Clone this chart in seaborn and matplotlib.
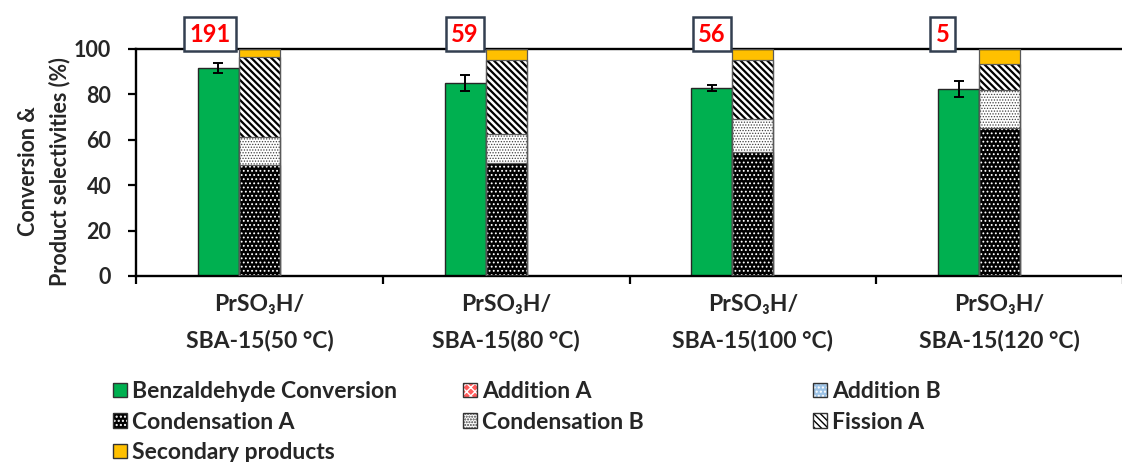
import numpy as np
import pandas as pd
import matplotlib.pyplot as plt
import seaborn as sns
from matplotlib.patches import Patch

# ------------------------
# Data
# ------------------------
catalysts = ["PrSO\u2083H/\nSBA-15(50 °C)", "PrSO\u2083H/\nSBA-15(80 °C)",
             "PrSO\u2083H/\nSBA-15(100 °C)", "PrSO\u2083H/\nSBA-15(120 °C)"]
conversion = [91.7, 85.1, 82.7, 82.4]
conversion_err = [2.2, 3.5, 1.3, 3.5]
addition_a = [0.0, 0.0, 0.0, 0.0]
addition_b = [0.0, 0.0, 0.0, 0.0]
condensation_a = [49.1, 49.6, 54.7, 65.0]
condensation_b = [12.1, 12.9, 14.3, 16.8]
fission_a = [35.1, 32.6, 26.1, 11.4]
secondary = [3.7, 4.9, 4.9, 6.8]
box_labels = ["191", "59", "56", "5"]
box_shift = [-0.034, 0.0, 0.0, -0.065]   # small horizontal nudges of the boxes

GREEN = "#00B050"
GOLD = "#FFC000"
RED = "#FF5B5B"
LIGHTBLUE = "#9DC3E6"

sns.set_theme(style="white")
plt.rcParams["font.family"] = ["Lato", "DejaVu Sans"]
plt.rcParams["font.weight"] = "bold"
plt.rcParams["hatch.linewidth"] = 1.0

fig = plt.figure(figsize=(11.22, 4.62), dpi=100)
ax = fig.add_axes([136 / 1122, (462 - 276) / 462, 987 / 1122, 227 / 462])

bw = 0.166
idx = np.arange(len(catalysts))
green_x = idx - bw
stack_x = idx.astype(float)

# green conversion bars
df_conv = pd.DataFrame({"x": green_x, "y": conversion})
sns.barplot(data=df_conv, x="x", y="y", native_scale=True, width=bw,
            color=GREEN, saturation=1, edgecolor="#262626", linewidth=1.0,
            errorbar=None, ax=ax, zorder=2)
ax.errorbar(green_x, conversion, yerr=conversion_err, fmt="none",
            ecolor="black", elinewidth=1.4, capsize=3.5, capthick=1.4, zorder=4)

# stacked selectivities: draw cumulative tops from the top layer down
layers = [
    ("Addition A", addition_a, dict(facecolor=RED, edgecolor="white", hatch="xxxx", hlw=0.8)),
    ("Addition B", addition_b, dict(facecolor=LIGHTBLUE, edgecolor="white", hatch="....", hlw=0.8)),
    ("Condensation A", condensation_a, dict(facecolor="black", edgecolor="white", hatch="....", hlw=0.8)),
    ("Condensation B", condensation_b, dict(facecolor="white", edgecolor="#404040", hatch="......", hlw=0.6)),
    ("Fission A", fission_a, dict(facecolor="white", edgecolor="black", hatch="\\\\\\\\\\", hlw=1.6)),
    ("Secondary products", secondary, dict(facecolor=GOLD, edgecolor=GOLD, hatch=None, hlw=1.0)),
]
tops = np.cumsum([np.array(v) for _, v, _ in layers], axis=0)
for k in range(len(layers) - 1, -1, -1):
    name, vals, style = layers[k]
    if np.allclose(vals, 0):
        continue
    df_l = pd.DataFrame({"x": stack_x, "y": tops[k]})
    with plt.rc_context({"hatch.linewidth": style["hlw"]}):
        sns.barplot(data=df_l, x="x", y="y", native_scale=True, width=bw,
                    saturation=1, errorbar=None, ax=ax, linewidth=0, zorder=2,
                    color=style["facecolor"], edgecolor=style["edgecolor"],
                    hatch=style["hatch"])
    sns.barplot(data=df_l, x="x", y="y", native_scale=True, width=bw,
                fill=False, errorbar=None, ax=ax, linewidth=0.9, zorder=3,
                color="#595959", edgecolor="#595959")

# boxed numbers above the green bars
for i, lab in enumerate(box_labels):
    ax.text(green_x[i] + box_shift[i], 106.6, lab, color="#FF0000",
            fontsize=17, fontweight="bold", ha="center", va="center",
            clip_on=False, zorder=5,
            bbox=dict(boxstyle="square,pad=0.22", facecolor="white",
                      edgecolor="#333F50", linewidth=1.8))

# axes styling
ax.set_xlim(-0.5, 3.5)
ax.set_ylim(0, 100)
ax.set_yticks([0, 20, 40, 60, 80, 100])
ax.set_xticks(idx)
ax.set_xticklabels(catalysts, fontsize=16.5, fontweight="bold", linespacing=1.85)
ax.set_xticks(np.arange(-0.5, 3.6, 1.0), minor=True)
ax.tick_params(axis="x", which="major", length=0, pad=13)
ax.tick_params(axis="x", which="minor", length=6, width=1.6, direction="out",
               color="black", bottom=True)
ax.tick_params(axis="y", length=5.8, width=1.6, direction="out", color="black",
               left=True, labelsize=15.5, pad=12)
for t in ax.get_yticklabels():
    t.set_fontweight("bold")
ax.set_xlabel("")
ax.set_ylabel("Conversion &\nProduct selectivities (%)", fontsize=15.5,
              fontweight="bold", linespacing=1.55)
ax.yaxis.set_label_coords(-0.066, 0.46)
for side in ["left", "bottom", "top"]:
    ax.spines[side].set_visible(True)
    ax.spines[side].set_color("black")
    ax.spines[side].set_linewidth(1.7)
ax.spines["right"].set_visible(False)
ax.grid(False)

# legend in three separate columns
def handle(facecolor, edgecolor, hatch):
    fillp = Patch(facecolor=facecolor, edgecolor=edgecolor, hatch=hatch, linewidth=0)
    outline = Patch(facecolor="none", edgecolor="#333333", linewidth=1.0)
    return (fillp, outline)

h = {"Benzaldehyde Conversion": handle(GREEN, GREEN, None)}
for name, _, st in layers:
    h[name] = handle(st["facecolor"], st["edgecolor"], st["hatch"])

columns = [
    (113, ["Benzaldehyde Conversion", "Condensation A", "Secondary products"]),
    (463, ["Addition A", "Condensation B"]),
    (813, ["Addition B", "Fission A"]),
]
for xpx, names in columns:
    fig.legend([h[n] for n in names], names, loc="upper left",
               bbox_to_anchor=(xpx / 1122, (462 - 381) / 462),
               frameon=False, borderpad=0, borderaxespad=0,
               handlelength=0.6, handleheight=0.6, handletextpad=0.25,
               labelspacing=0.42, prop={"size": 16.5, "weight": "bold"})

fig.savefig("out.png", dpi=100)
